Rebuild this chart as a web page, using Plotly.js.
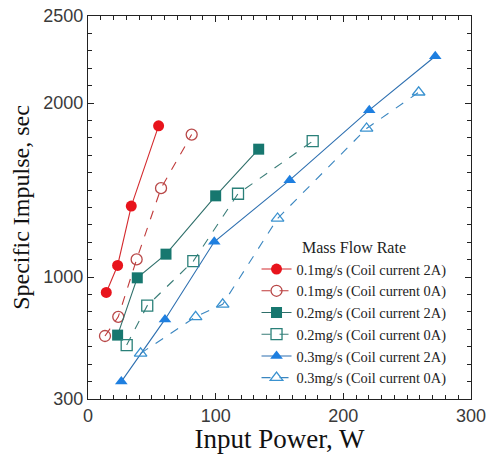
<!DOCTYPE html>
<html>
<head>
<meta charset="utf-8">
<script src="https://cdn.plot.ly/plotly-3.0.1.min.js"></script>
<style>html,body{margin:0;padding:0;background:#fff;}#chart{width:487px;height:454px;}</style>
</head>
<body>
<div id="chart"></div>
<script>
// Data
const names = [
  "0.1mg/s (Coil current 2A)",
  "0.1mg/s (Coil current 0A)",
  "0.2mg/s (Coil current 2A)",
  "0.2mg/s (Coil current 0A)",
  "0.3mg/s (Coil current 2A)",
  "0.3mg/s (Coil current 0A)"
];
const power_01_2A = [14.3, 23.2, 33.9, 55.3];
const isp_01_2A   = [912, 1067, 1408, 1869];
const power_01_0A = [13.3, 23.7, 38.1, 57.2, 81.2];
const isp_01_0A   = [662, 772, 1102, 1511, 1819];
const power_02_2A = [23.2, 38.6, 61.1, 100, 133.7];
const isp_02_2A   = [667, 996, 1132, 1467, 1735];
const power_02_0A = [30.3, 46.4, 82.5, 117.5, 176];
const isp_02_0A   = [610, 836, 1092, 1479, 1781];
const power_03_2A = [26.1, 60.3, 98.9, 158, 220.3, 272];
const isp_03_2A   = [400, 757, 1203, 1557, 1959, 2269];
const power_03_0A = [41.2, 84.3, 105.5, 148.5, 218.2, 259];
const isp_03_0A   = [562, 772, 844, 1337, 1854, 2062];
const yTickVals = [300, 1000, 2000, 2500];
const xTickVals = [0, 100, 200, 300];

const styles = [
  {sym:'circle', fill:'#e8141c', line:'#d42a2e', dash:'solid', open:false},
  {sym:'circle-open', fill:'#b84848', line:'#c03a3a', dash:'dash', open:true},
  {sym:'square', fill:'#17776f', line:'#2f6f6a', dash:'solid', open:false},
  {sym:'square-open', fill:'#2a8079', line:'#3a7d78', dash:'dash', open:true},
  {sym:'triangle-up', fill:'#1e7fe0', line:'#2d6fb0', dash:'solid', open:false},
  {sym:'triangle-up-open', fill:'#3a92d0', line:'#3a86c0', dash:'dash', open:true}
];
const xs = [power_01_2A, power_01_0A, power_02_2A, power_02_0A, power_03_2A, power_03_0A];
const ys = [isp_01_2A, isp_01_0A, isp_02_2A, isp_02_0A, isp_03_2A, isp_03_0A];

const data = names.map((n, i) => ({
  type: 'scatter', mode: 'lines+markers', name: n,
  x: xs[i], y: ys[i],
  line: {color: styles[i].line, width: 1.1, dash: styles[i].dash},
  marker: {symbol: styles[i].sym, size: 11, color: styles[i].fill,
           line: {color: styles[i].fill, width: styles[i].open ? 1.3 : 0}}
}));

const tickFont = {family: 'Liberation Sans, Arial, sans-serif', size: 18, color: '#3a3a3a'};
const serif = 'Liberation Serif, Times New Roman, serif';

const layout = {
  width: 487, height: 454,
  margin: {l: 88, r: 16, t: 16, b: 55},
  paper_bgcolor: '#fff', plot_bgcolor: '#fff',
  showlegend: true,
  legend: {
    x: 0.44, y: 0.435, xanchor: 'left', yanchor: 'top',
    bgcolor: 'rgba(0,0,0,0)',
    font: {family: serif, size: 14.4, color: '#222'},
    title: {text: 'Mass Flow Rate', side: 'top center',
            font: {family: serif, size: 16, color: '#222'}},
    itemwidth: 30, tracegroupgap: 0
  },
  xaxis: {
    range: [0, 300], tickmode: 'array', tickvals: xTickVals,
    ticks: 'inside', ticklen: 6, tickcolor: '#222', tickwidth: 1,
    minor: {dtick: 10, tick0: 0, ticks: 'inside', ticklen: 4, tickcolor: '#222', showgrid: false},
    showline: true, linecolor: '#222', linewidth: 1.2, mirror: 'ticks',
    showgrid: false, zeroline: false, tickfont: tickFont,
    title: {text: 'Input Power, W', font: {family: serif, size: 27, color: '#111'}, standoff: 2}
  },
  yaxis: {
    range: [300, 2500], tickmode: 'array', tickvals: yTickVals,
    ticks: 'inside', ticklen: 6, tickcolor: '#222', tickwidth: 1,
    minor: {dtick: 100, tick0: 0, ticks: 'inside', ticklen: 4, tickcolor: '#222', showgrid: false},
    showline: true, linecolor: '#222', linewidth: 1.2, mirror: 'ticks',
    showgrid: false, zeroline: false, tickfont: tickFont,
    title: {text: 'Specific Impulse, sec', font: {family: serif, size: 24, color: '#111'}, standoff: 6}
  }
};

Plotly.newPlot('chart', data, layout, {displayModeBar: false, staticPlot: true});
</script>
</body>
</html>
